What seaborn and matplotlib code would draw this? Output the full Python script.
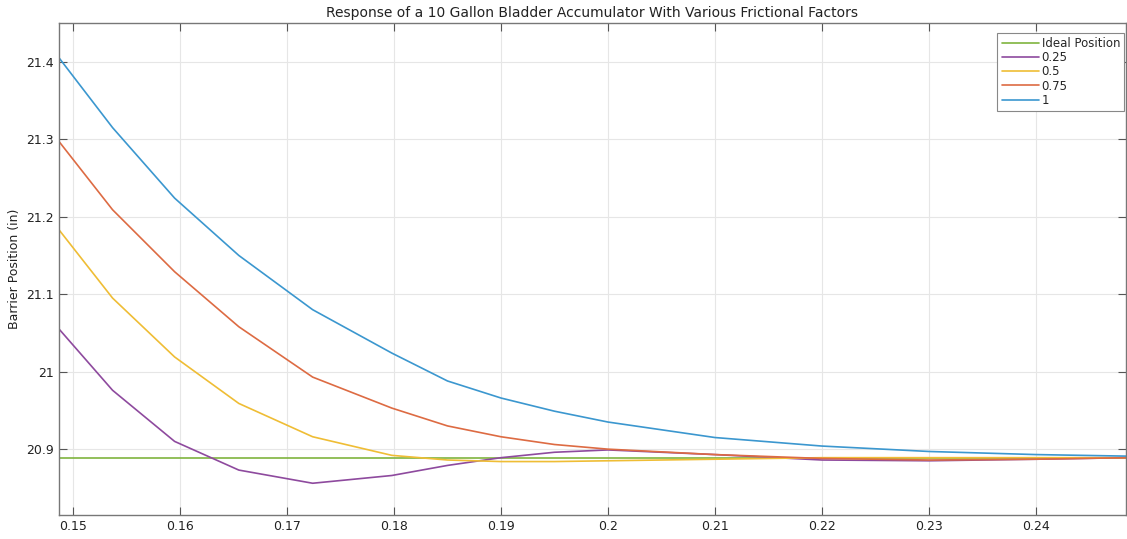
from matplotlib import pyplot as plt
from matplotlib.ticker import FuncFormatter, MultipleLocator
import pandas as pd
import seaborn as sns

# time samples (s) and barrier position (in) for each friction factor
time = [0.1487, 0.1537, 0.1595, 0.1655, 0.1724, 0.1798, 0.1850, 0.1900,
        0.1950, 0.2000, 0.2100, 0.2200, 0.2300, 0.2400, 0.2485]
pos_1 = [21.405, 21.315, 21.224, 21.150, 21.080, 21.024, 20.988, 20.966,
         20.949, 20.935, 20.915, 20.904, 20.897, 20.893, 20.891]
pos_075 = [21.297, 21.209, 21.129, 21.058, 20.993, 20.953, 20.930, 20.916,
           20.906, 20.900, 20.893, 20.888, 20.886, 20.887, 20.889]
pos_05 = [21.183, 21.095, 21.019, 20.959, 20.916, 20.892, 20.886, 20.884,
          20.884, 20.885, 20.887, 20.889, 20.889, 20.889, 20.889]
pos_025 = [21.055, 20.976, 20.910, 20.873, 20.856, 20.866, 20.879, 20.889,
           20.896, 20.899, 20.893, 20.886, 20.885, 20.887, 20.889]
ideal = [20.888] * len(time)

labels = ["Ideal Position", "0.25", "0.5", "0.75", "1"]
series = [ideal, pos_025, pos_05, pos_075, pos_1]

df = pd.concat([pd.DataFrame({"t": time, "pos": s, "case": lab})
                for lab, s in zip(labels, series)])

colors = {"Ideal Position": "#7fb43e", "0.25": "#8e4a9e", "0.5": "#efbd35",
          "0.75": "#dd6b43", "1": "#3b97cf"}

sns.set_style("white")
plt.rcParams['font.family'] = ['DejaVu Sans']

fig = plt.figure(figsize=(11.27, 5.39), dpi=100)
ax = fig.add_axes([0.0524, 0.0445, 0.9466, 0.9128])

sns.lineplot(data=df, x="t", y="pos", hue="case", hue_order=labels,
             palette=colors, linewidth=1.2, ax=ax)

ax.set_xlim(0.1487, 0.2484)
ax.set_ylim(20.815, 21.45)
ax.xaxis.set_major_locator(MultipleLocator(0.01))
ax.yaxis.set_major_locator(MultipleLocator(0.1))
fmt = FuncFormatter(lambda v, p: "%g" % round(v, 4))
ax.xaxis.set_major_formatter(fmt)
ax.yaxis.set_major_formatter(fmt)
ax.tick_params(direction="in", length=6, width=0.8, color="#555555",
               labelsize=9, labelcolor="#222222", top=True, right=True,
               bottom=True, left=True)
ax.grid(True, color="#e6e6e6", linewidth=0.8)
ax.set_axisbelow(True)
for sp in ax.spines.values():
    sp.set_color("#777777")
    sp.set_linewidth(1.0)

ax.set_xlabel("")
ax.set_ylabel("Barrier Position (in)", fontsize=9, color="#222222")
ax.set_title("Response of a 10 Gallon Bladder Accumulator With Various Frictional Factors",
             fontsize=10, color="#222222", pad=4)

leg = ax.legend(loc="upper right", bbox_to_anchor=(0.9985, 0.98), fontsize=8.5,
                fancybox=False, framealpha=1, edgecolor="#888888", borderpad=0.35,
                labelspacing=0.1, handlelength=3.2, handletextpad=0.2,
                borderaxespad=0.0)
leg.get_frame().set_linewidth(0.8)

fig.savefig("out.png", dpi=100)
